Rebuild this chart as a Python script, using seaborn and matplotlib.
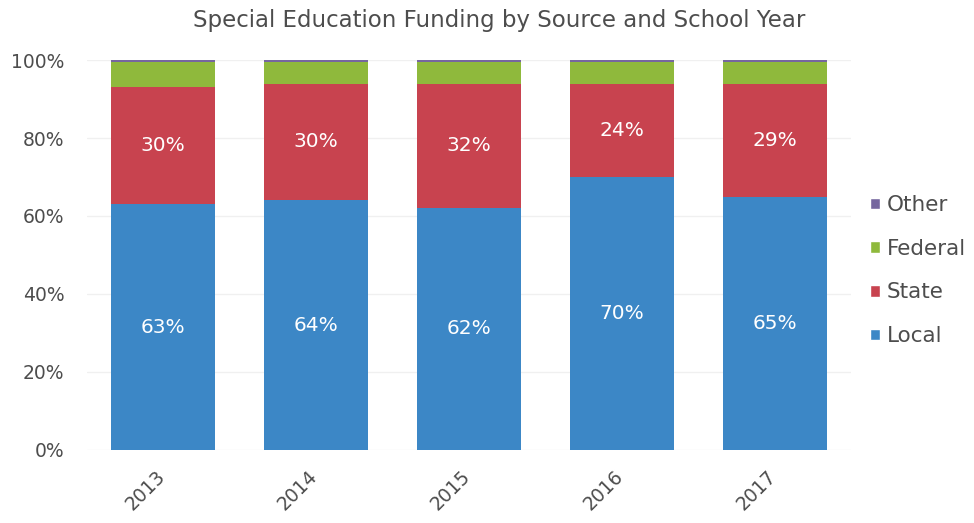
import matplotlib
matplotlib.use("Agg")
import matplotlib.pyplot as plt
import matplotlib.transforms as mtransforms
import seaborn as sns
import pandas as pd
import numpy as np
from matplotlib.patches import Patch

years = ["2013", "2014", "2015", "2016", "2017"]
local = [63, 64, 62, 70, 65]
state = [30, 30, 32, 24, 29]
federal = [6.5, 5.5, 5.5, 5.5, 5.5]
other = [0.5, 0.5, 0.5, 0.5, 0.5]

sources = ["Local", "State", "Federal", "Other"]
colors = {"Local": "#3c87c6", "State": "#c8434f", "Federal": "#8fb93c", "Other": "#76679f"}

sns.set_theme(style="white")
plt.rcParams["font.family"] = ["DejaVu Sans"]
text_color = "#4d4d4d"

df = pd.DataFrame({"Year": years, "Local": local, "State": state,
                   "Federal": federal, "Other": other})
cum = df[sources].cumsum(axis=1)

fig = plt.figure(figsize=(9.74, 5.23), dpi=100)
ax = fig.add_axes([0.089, 0.14, 0.785, 0.745])

# stacked bars: draw cumulative totals from the top layer down
for src in reversed(sources):
    sns.barplot(x=df["Year"], y=cum[src], color=colors[src], width=0.68,
                saturation=1, linewidth=0, ax=ax, zorder=3)

# value labels on Local and State segments
for i in range(len(years)):
    ax.text(i, local[i] / 2, f"{local[i]}%", ha="center", va="center",
            color="white", fontsize=14.5, zorder=5)
    ax.text(i, local[i] + state[i] / 2, f"{state[i]}%", ha="center",
            va="center", color="white", fontsize=14.5, zorder=5)

ax.set_ylim(0, 100)
ax.set_xlim(-0.5, len(years) - 0.5)
ax.set_yticks(np.arange(0, 101, 20))
ax.set_yticklabels([f"{v}%" for v in range(0, 101, 20)], fontsize=13.5,
                   color=text_color)
ax.set_xticks(range(len(years)))
ax.set_xticklabels(years, rotation=45, ha="right", rotation_mode="anchor",
                   fontsize=13.5, color=text_color)
ax.tick_params(axis="x", pad=12, length=0)
ax.tick_params(axis="y", pad=16, length=0)
shift = mtransforms.ScaledTranslation(-8 / 100, 0, fig.dpi_scale_trans)
for lab in ax.get_xticklabels():
    lab.set_transform(lab.get_transform() + shift)
ax.set_xlabel("")
ax.set_ylabel("")
ax.yaxis.grid(True, color="#f0f0f0", linewidth=1, zorder=0)
for s in ax.spines.values():
    s.set_visible(False)

fig.text(0.513, 1 - 20 / 523, "Special Education Funding by Source and School Year",
         ha="center", va="center", fontsize=16.5, color=text_color)

handles = [Patch(facecolor=colors[s], label=s) for s in reversed(sources)]
leg = ax.legend(handles=handles, loc="center left", bbox_to_anchor=(0.999, 0.46),
                frameon=False, fontsize=15.5, handlelength=0.45, handleheight=0.45,
                handletextpad=0.35, labelspacing=1.1, labelcolor=text_color)

fig.savefig("out.png", dpi=100)
